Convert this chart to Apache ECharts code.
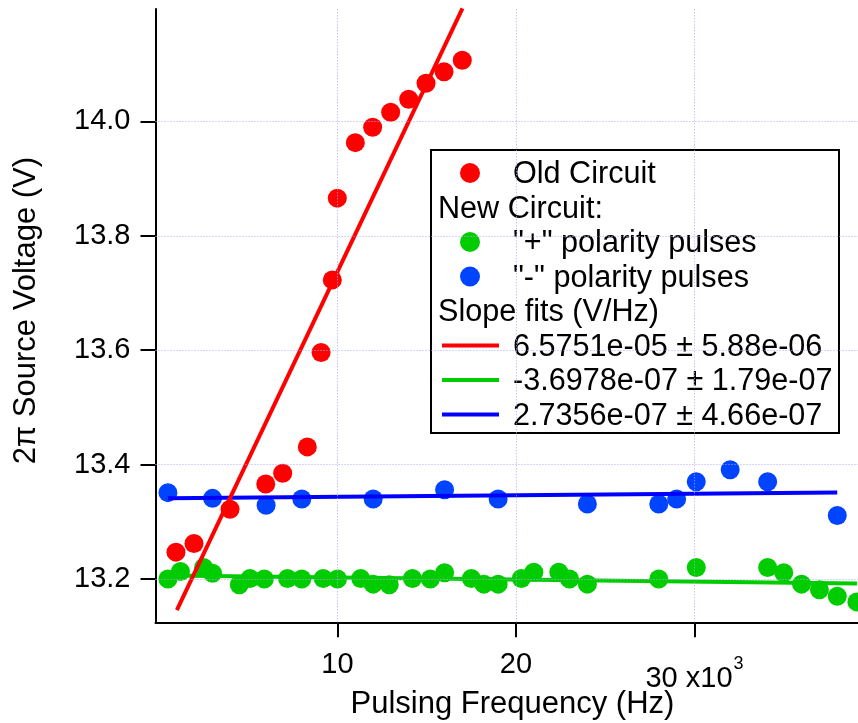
<!DOCTYPE html>
<html>
<head>
<meta charset="utf-8">
<script src="https://cdn.jsdelivr.net/npm/echarts@6/dist/echarts.min.js"></script>
<style>
  html, body { margin: 0; padding: 0; background: #ffffff; overflow: hidden; }
  #chart { width: 870px; height: 723px; }
</style>
</head>
<body>
<div id="chart"></div>
<script>
// Source voltage vs. pulsing frequency (frequency in Hz, voltage in V)
const oldFreq = [950, 1960, 3980, 5980, 6930, 8310, 9080, 9710, 9990, 11000, 11970, 12980, 13990, 14960, 15970, 16990];
const oldVolt = [13.247, 13.262, 13.322, 13.366, 13.385, 13.431, 13.596, 13.723, 13.866, 13.963, 13.990, 14.016, 14.039, 14.067, 14.087, 14.107];

const plusFreq = [500, 1200, 2500, 3000, 4500, 5100, 5900, 7200, 8000, 9200, 10000, 11300, 12000, 12900, 14200, 15200, 16000, 17500, 18200, 19000, 20300, 21000, 22400, 23000, 24000, 28000, 30100, 34100, 35000, 36000, 37000, 38000, 39100];
const plusVolt = [13.200, 13.213, 13.220, 13.210, 13.190, 13.201, 13.200, 13.201, 13.200, 13.201, 13.200, 13.201, 13.191, 13.190, 13.201, 13.200, 13.211, 13.201, 13.191, 13.191, 13.201, 13.212, 13.212, 13.200, 13.191, 13.200, 13.220, 13.220, 13.211, 13.191, 13.181, 13.170, 13.160];

const minusFreq = [500, 3000, 6000, 8000, 12000, 16000, 19000, 24000, 28000, 29000, 30100, 32000, 34100, 38000];
const minusVolt = [13.351, 13.341, 13.329, 13.340, 13.340, 13.356, 13.340, 13.331, 13.331, 13.340, 13.370, 13.391, 13.370, 13.311];

// Linear fits, order: old circuit, "+" pulses, "-" pulses
const fitSlope = [6.5751e-05, -3.6978e-07, 2.7356e-07];   // V/Hz
const fitError = [5.88e-06, 1.79e-07, 4.66e-07];          // V/Hz
const fitIntercept = [13.080, 13.2065, 13.3409];          // V
const fitStart = [1000, 500, 500];                        // Hz
const fitEnd = [17000, 39100, 38000];                     // Hz

// Tick positions
const xTicks = [10000, 20000, 30000];
const yTicks = [13.2, 13.4, 13.6, 13.8, 14.0];

const FONT = '"Liberation Sans", Arial, Helvetica, sans-serif';
const RED = '#ff0000';
const GREEN = '#00cc00';
const BLUE_PT = '#0044ff';
const BLUE_LN = '#0000ff';
const GRID_CLR = '#aaaaff';

function pairs(xs, ys) {
  return xs.map((x, i) => [x, ys[i]]);
}
function fitLine(i) {
  return [fitStart[i], fitEnd[i]].map(x => [x, fitIntercept[i] + fitSlope[i] * x]);
}
// exponent written with two digits, e.g. 6.5751e-05
function expo(v, digits) {
  return v.toExponential(digits).replace(/e([+-])(\d)$/, 'e$10$2');
}
function fitText(i) {
  return expo(fitSlope[i], 4) + ' \u00b1 ' + expo(fitError[i], 2);
}

const chart = echarts.init(document.getElementById('chart'), null, { renderer: 'canvas' });

// legend box
const LX = 431, LY = 150, LW = 408, LH = 283;
const ROW0 = 173, ROWH = 34.5;
const TXT_X = 513, HEAD_X = 438, SYM_X = 470;
const legendFont = '30.6px ' + FONT;
function rowY(k) { return ROW0 + k * ROWH; }
function legendText(text, x, k) {
  return { type: 'text', style: { text: text, x: x, y: rowY(k) + 2, font: legendFont, fill: '#000', verticalAlign: 'middle', align: 'left' } };
}
function legendDot(color, k) {
  return { type: 'circle', shape: { cx: SYM_X, cy: rowY(k), r: 10 }, style: { fill: color } };
}
function legendLine(color, k) {
  return { type: 'line', shape: { x1: 442, y1: rowY(k), x2: 499, y2: rowY(k) }, style: { stroke: color, lineWidth: 4 } };
}

const option = {
  animation: false,
  backgroundColor: '#ffffff',
  grid: { left: 155.5, top: 9, right: 0.6, bottom: 100.7, containLabel: false, outerBoundsMode: 'none' },
  xAxis: {
    type: 'value',
    min: -196,
    max: 39800,
    name: 'Pulsing Frequency (Hz)',
    nameLocation: 'middle',
    nameGap: 67,
    nameMoveOverlap: false,
    nameTextStyle: { fontFamily: FONT, fontSize: 31, color: '#000' },
    axisLine: { show: true, onZero: false, lineStyle: { color: '#000', width: 2 } },
    axisTick: { show: true, inside: false, length: 15, customValues: xTicks, lineStyle: { color: '#000', width: 2 } },
    axisLabel: {
      customValues: xTicks,
      margin: 28,
      fontFamily: FONT,
      fontSize: 29,
      color: '#000',
      formatter: function (v) {
        const k = Math.round(v / 1000);
        if (v === xTicks[xTicks.length - 1]) {
          return '{n|' + k + ' x10}{s|3}';
        }
        return String(k);
      },
      rich: {
        n: { fontFamily: FONT, fontSize: 29, color: '#000', padding: [14, 0, 0, 0] },
        s: { fontFamily: FONT, fontSize: 18, color: '#000', verticalAlign: 'top', padding: [5, 0, 0, 1] }
      }
    },
    splitLine: { show: false }
  },
  yAxis: {
    type: 'value',
    min: 13.1243,
    max: 14.1967,
    name: '2\u03c0 Source Voltage (V)',
    nameLocation: 'middle',
    nameGap: 114,
    nameMoveOverlap: false,
    nameTextStyle: { fontFamily: FONT, fontSize: 31, color: '#000', padding: [0, 0, 0, 10] },
    axisLine: { show: true, onZero: false, lineStyle: { color: '#000', width: 2 } },
    axisTick: { show: true, inside: false, length: 15, customValues: yTicks, lineStyle: { color: '#000', width: 2 } },
    axisLabel: {
      customValues: yTicks,
      margin: 25,
      fontFamily: FONT,
      fontSize: 29,
      color: '#000',
      formatter: function (v) { return v.toFixed(1); }
    },
    splitLine: { show: false }
  },
  series: [
    {
      // dotted grid at the labelled ticks
      type: 'line',
      data: [],
      z: 1,
      silent: true,
      markLine: {
        silent: true,
        symbol: 'none',
        animation: false,
        label: { show: false },
        lineStyle: { color: GRID_CLR, type: [1, 2], width: 1 },
        data: xTicks.map(v => ({ xAxis: v })).concat(yTicks.map(v => ({ yAxis: v })))
      }
    },
    {
      name: 'Old Circuit', type: 'scatter', z: 2,
      symbol: 'circle', symbolSize: 19,
      itemStyle: { color: RED, opacity: 1 },
      data: pairs(oldFreq, oldVolt)
    },
    {
      name: '"+" polarity pulses', type: 'scatter', z: 2,
      symbol: 'circle', symbolSize: 19,
      itemStyle: { color: GREEN, opacity: 1 },
      data: pairs(plusFreq, plusVolt)
    },
    {
      name: '"-" polarity pulses', type: 'scatter', z: 2,
      symbol: 'circle', symbolSize: 19,
      itemStyle: { color: BLUE_PT, opacity: 1 },
      data: pairs(minusFreq, minusVolt)
    },
    {
      name: 'fit +', type: 'line', z: 3, showSymbol: false, clip: true,
      lineStyle: { color: GREEN, width: 4 },
      data: fitLine(1)
    },
    {
      name: 'fit -', type: 'line', z: 3, showSymbol: false, clip: true,
      lineStyle: { color: BLUE_LN, width: 4 },
      data: fitLine(2)
    },
    {
      name: 'fit old', type: 'line', z: 3, showSymbol: false, clip: true,
      lineStyle: { color: RED, width: 4 },
      data: fitLine(0)
    }
  ],
  graphic: [
    {
      type: 'group',
      z: 100,
      children: [
        { type: 'rect', shape: { x: LX, y: LY, width: LW, height: LH }, style: { fill: '#ffffff', stroke: '#000', lineWidth: 2 } },
        legendDot(RED, 0),
        legendText('Old Circuit', TXT_X, 0),
        legendText('New Circuit:', HEAD_X, 1),
        legendDot(GREEN, 2),
        legendText('"+" polarity pulses', TXT_X, 2),
        legendDot(BLUE_PT, 3),
        legendText('"-" polarity pulses', TXT_X, 3),
        legendText('Slope fits (V/Hz)', HEAD_X, 4),
        legendLine(RED, 5),
        legendText(fitText(0), TXT_X, 5),
        legendLine(GREEN, 6),
        legendText(fitText(1), TXT_X, 6),
        legendLine(BLUE_LN, 7),
        legendText(fitText(2), TXT_X, 7)
      ]
    }
  ]
};

chart.setOption(option);
</script>
</body>
</html>
